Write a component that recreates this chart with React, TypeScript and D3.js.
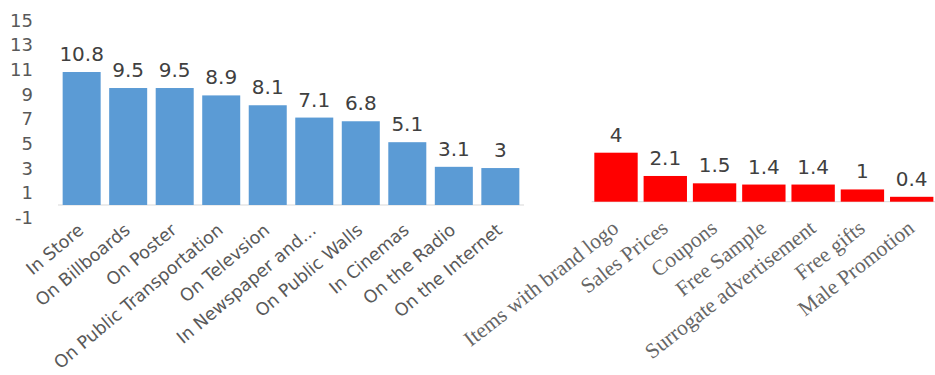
import React from "react";
import * as d3 from "d3";

const mediaCategories = [
  "In Store",
  "On Billboards",
  "On Poster",
  "On Public Transportation",
  "On Televsion",
  "In Newspaper and...",
  "On Public Walls",
  "In Cinemas",
  "On the Radio",
  "On the Internet",
];
const mediaValues = [10.8, 9.5, 9.5, 8.9, 8.1, 7.1, 6.8, 5.1, 3.1, 3];

const promoCategories = [
  "Items with brand logo",
  "Sales Prices",
  "Coupons",
  "Free Sample",
  "Surrogate advertisement",
  "Free gifts",
  "Male Promotion",
];
const promoValues = [4, 2.1, 1.5, 1.4, 1.4, 1, 0.4];

const yTicks = [15, 13, 11, 9, 7, 5, 3, 1, -1];

const W = 935;
const H = 375;

export default function App() {
  const yL = d3.scaleLinear().domain([-1, 15]).range([217.3, 20.3]);
  const xL = d3.scaleBand<string>().domain(mediaCategories).range([58, 524]).paddingInner(0.183).paddingOuter(0.1);

  const yR = d3.scaleLinear().domain([0, 4]).range([201.7, 152.7]);
  const xR = d3.scaleBand<string>().domain(promoCategories).range([591.7, 936]).paddingInner(0.12).paddingOuter(0.053);

  const sans = "'DejaVu Sans', sans-serif";
  const serif = "'Liberation Serif', 'Times New Roman', serif";

  return (
    <svg width={W} height={H} style={{ position: "absolute", left: 0, top: 0, background: "#fff" }}>
      {yTicks.map((t) => (
        <text key={t} x={33} y={yL(t)} dy="0.36em" textAnchor="end" fontFamily={sans} fontSize={18} fill="#595959">
          {t}
        </text>
      ))}
      <line x1={58} x2={524} y1={yL(0)} y2={yL(0)} stroke="#d9d9d9" strokeWidth={1} />
      {mediaCategories.map((c, i) => {
        const x = xL(c)!;
        const v = mediaValues[i];
        return (
          <g key={c}>
            <rect x={x} y={yL(v)} width={xL.bandwidth()} height={yL(0) - yL(v)} fill="#5B9BD5" />
            <text x={x + xL.bandwidth() / 2} y={yL(v) - 11} textAnchor="middle" fontFamily={sans} fontSize={20} fill="#404040">
              {v}
            </text>
            <text
              transform={`translate(${x + xL.bandwidth() / 2 + 3},${yL(0) + 27}) rotate(-40)`}
              textAnchor="end"
              fontFamily={sans}
              fontSize={17.5}
              fill="#595959"
            >
              {c}
            </text>
          </g>
        );
      })}
      <line x1={591.7} x2={935} y1={yR(0)} y2={yR(0)} stroke="#d9d9d9" strokeWidth={1} />
      {promoCategories.map((c, i) => {
        const x = xR(c)!;
        const v = promoValues[i];
        return (
          <g key={c}>
            <rect x={x} y={yR(v)} width={xR.bandwidth()} height={yR(0) - yR(v)} fill="#FF0000" />
            <text x={x + xR.bandwidth() / 2} y={yR(v) - 11} textAnchor="middle" fontFamily={sans} fontSize={20} fill="#404040">
              {v}
            </text>
            <text
              transform={`translate(${x + xR.bandwidth() / 2 + 4},${yR(0) + 29}) rotate(-38)`}
              textAnchor="end"
              fontFamily={serif}
              fontSize={21.5}
              fill="#666666"
            >
              {c}
            </text>
          </g>
        );
      })}
    </svg>
  );
}
